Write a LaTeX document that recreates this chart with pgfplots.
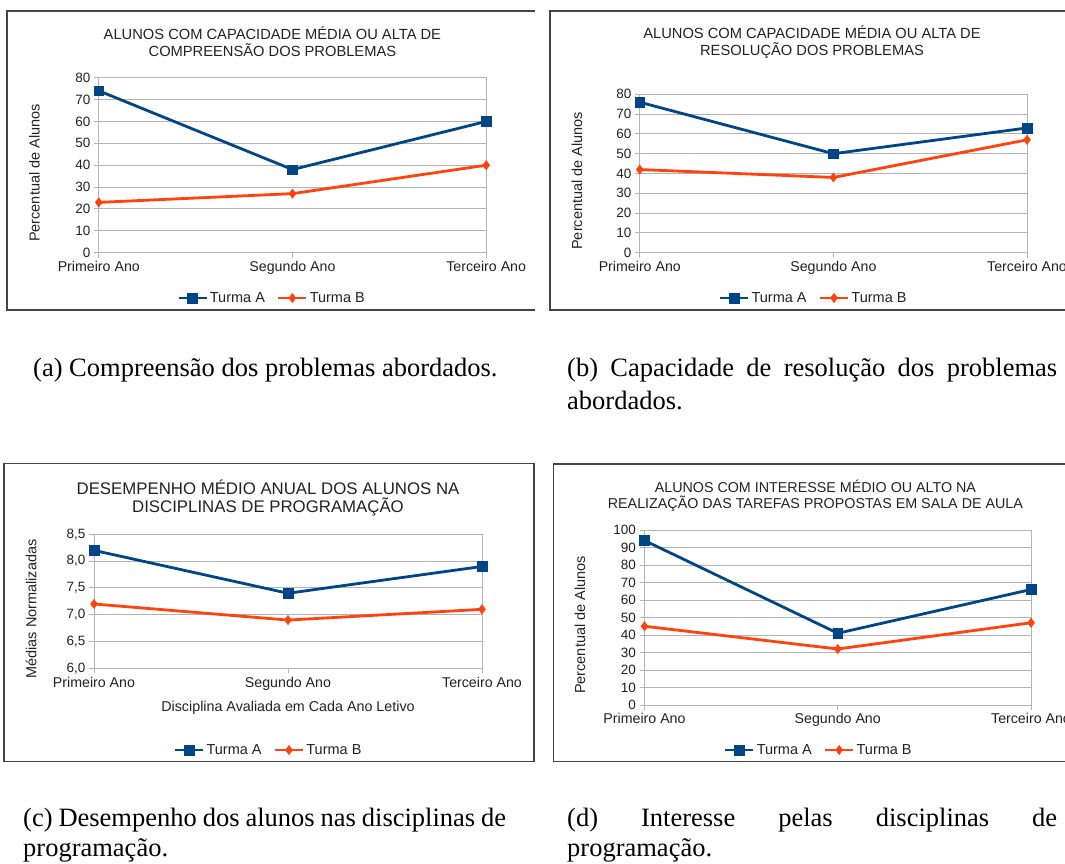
\documentclass[border=0pt]{standalone}
\usepackage{fontspec}
\setmainfont{Liberation Sans}
\newfontfamily\capfont{Liberation Serif}
\usepackage{pgfplots}
\pgfplotsset{compat=1.18}
\definecolor{ta}{HTML}{004586}
\definecolor{tb}{HTML}{FF420E}
\definecolor{gridc}{HTML}{B3B3B3}
\definecolor{boxc}{HTML}{444444}
\definecolor{txt}{HTML}{222222}
\pgfplotsset{
  panel/.style={
    scale only axis,
    xmin=0, xmax=2,
    xtick={0,1,2},
    xticklabels={Primeiro Ano,Segundo Ano,Terceiro Ano},
    axis lines=box,
    axis line style={draw=gridc, line width=1pt},
    ymajorgrids,
    grid style={draw=gridc, line width=1pt},
    tick pos=left,
    tick align=outside,
    major tick length=5pt,
    tick style={draw=gridc, line width=1pt},
    yticklabel style={font=\fontsize{13.5}{15}\selectfont, text=txt},
    xticklabel style={font=\fontsize{14.2}{16}\selectfont, text=txt},
    /pgf/number format/assume math mode=true,
    clip=false,
    legend columns=-1,
    legend style={draw=none, fill=none, font=\fontsize{14.5}{16}\selectfont, text=txt, anchor=center, /tikz/every even column/.append style={column sep=10pt}},
    legend image code/.code={\draw[mark repeat=2,mark phase=2] plot coordinates {(0pt,0pt) (14pt,0pt) (28pt,0pt)};},
  },
  serA/.style={ta, line width=2.8pt, mark=square*, mark size=4.8pt, mark options={solid, line width=0.5pt}},
  serB/.style={tb, line width=2.8pt, mark=diamond*, mark size=4.6pt, mark options={solid, line width=0.5pt}},
}
\begin{document}
\begin{tikzpicture}
\useasboundingbox (0pt,0pt) rectangle (1065pt,863pt);
\clip (0pt,0pt) rectangle (1065pt,863pt);
\fill[white] (0pt,0pt) rectangle (1065pt,863pt);
% frames
\draw[boxc, line width=1.5pt] (535pt,852pt) -- (7pt,852pt) -- (7pt,553pt) -- (535pt,553pt);
\draw[boxc, line width=1.5pt] (1070pt,852pt) -- (550pt,852pt) -- (550pt,553pt) -- (1070pt,553pt);
\draw[boxc, line width=1.5pt] (4pt,399.7pt) rectangle (534pt,101.3pt);
\draw[boxc, line width=1.5pt] (1070pt,399pt) -- (553.4pt,399pt) -- (553.4pt,101.3pt) -- (1070pt,101.3pt);

% ---------- (a)
\begin{axis}[panel, at={(98.8pt,610.3pt)}, anchor=south west,
  width=387.4pt, height=175pt, ymin=0, ymax=80, ytick={0,10,...,80},
  legend style={at={(axis description cs:0.447,-0.259)}}]
\addplot[serA] coordinates {(0,74) (1,38) (2,60)};
\addlegendentry{Turma A}
\addplot[serB] coordinates {(0,23) (1,27) (2,40)};
\addlegendentry{Turma B}
\end{axis}
\node[align=center, text=txt, font=\fontsize{14.7}{17}\selectfont] at (272.4pt,821pt) {ALUNOS COM CAPACIDADE MÉDIA OU ALTA DE\\COMPREENSÃO DOS PROBLEMAS};
\node[rotate=90, text=txt, font=\fontsize{14.5}{17}\selectfont] at (34.4pt,690pt) {Percentual de Alunos};

% ---------- (b)
\begin{axis}[panel, at={(639.8pt,610.3pt)}, anchor=south west,
  width=387.2pt, height=158.4pt, ymin=0, ymax=80, ytick={0,10,...,80},
  legend style={at={(axis description cs:0.449,-0.286)}}]
\addplot[serA] coordinates {(0,76) (1,50) (2,63)};
\addlegendentry{Turma A}
\addplot[serB] coordinates {(0,42) (1,38) (2,57)};
\addlegendentry{Turma B}
\end{axis}
\node[align=center, text=txt, font=\fontsize{14.7}{17}\selectfont] at (812pt,821pt) {ALUNOS COM CAPACIDADE MÉDIA OU ALTA DE\\RESOLUÇÃO DOS PROBLEMAS};
\node[rotate=90, text=txt, font=\fontsize{14.5}{17}\selectfont] at (577pt,682.2pt) {Percentual de Alunos};

% ---------- (c)
\begin{axis}[panel, at={(94pt,194.7pt)}, anchor=south west,
  width=388pt, height=134pt, ymin=6, ymax=8.5, ytick={6,6.5,...,8.5},
  yticklabel style={/pgf/number format/.cd, fixed, fixed zerofill, precision=1, use comma},
  legend style={at={(axis description cs:0.45,-0.61)}}]
\addplot[serA] coordinates {(0,8.2) (1,7.4) (2,7.9)};
\addlegendentry{Turma A}
\addplot[serB] coordinates {(0,7.2) (1,6.9) (2,7.1)};
\addlegendentry{Turma B}
\end{axis}
\node[align=center, text=txt, font=\fontsize{16.8}{17.7}\selectfont] at (268pt,365pt) {DESEMPENHO MÉDIO ANUAL DOS ALUNOS NA\\DISCIPLINAS DE PROGRAMAÇÃO};
\node[rotate=90, text=txt, font=\fontsize{14.5}{17}\selectfont] at (31pt,254pt) {Médias Normalizadas};
\node[text=txt, font=\fontsize{14.3}{17}\selectfont] at (288pt,154.7pt) {Disciplina Avaliada em Cada Ano Letivo};

% ---------- (d)
\begin{axis}[panel, at={(644.5pt,158pt)}, anchor=south west,
  width=386.5pt, height=175pt, ymin=0, ymax=100, ytick={0,10,...,100},
  legend style={at={(axis description cs:0.451,-0.257)}}]
\addplot[serA] coordinates {(0,94) (1,41) (2,66)};
\addlegendentry{Turma A}
\addplot[serB] coordinates {(0,45) (1,32) (2,47)};
\addlegendentry{Turma B}
\end{axis}
\node[align=center, text=txt, font=\fontsize{14.3}{16.3}\selectfont] at (815.4pt,367pt) {ALUNOS COM INTERESSE MÉDIO OU ALTO NA\\REALIZAÇÃO DAS TAREFAS PROPOSTAS EM SALA DE AULA};
\node[rotate=90, text=txt, font=\fontsize{14.5}{17}\selectfont] at (580pt,238pt) {Percentual de Alunos};

% ---------- captions
\begin{scope}[every node/.style={inner sep=0pt, anchor=west, font=\capfont\fontsize{26.5}{30}\selectfont}]
\node at (33pt,493pt) {(a) Compreensão dos problemas abordados.};
\node at (567pt,493pt) {\makebox[490pt][s]{(b) Capacidade de resolução dos problemas}};
\node at (567pt,463pt) {abordados.};
\node at (23pt,43pt) {\makebox[483pt][s]{(c) Desempenho dos alunos nas disciplinas de}};
\node at (23pt,13pt) {programação.};
\node at (567pt,43pt) {\makebox[490pt][s]{(d) Interesse pelas disciplinas de}};
\node at (567pt,13pt) {programação.};
\end{scope}
\end{tikzpicture}
\end{document}
